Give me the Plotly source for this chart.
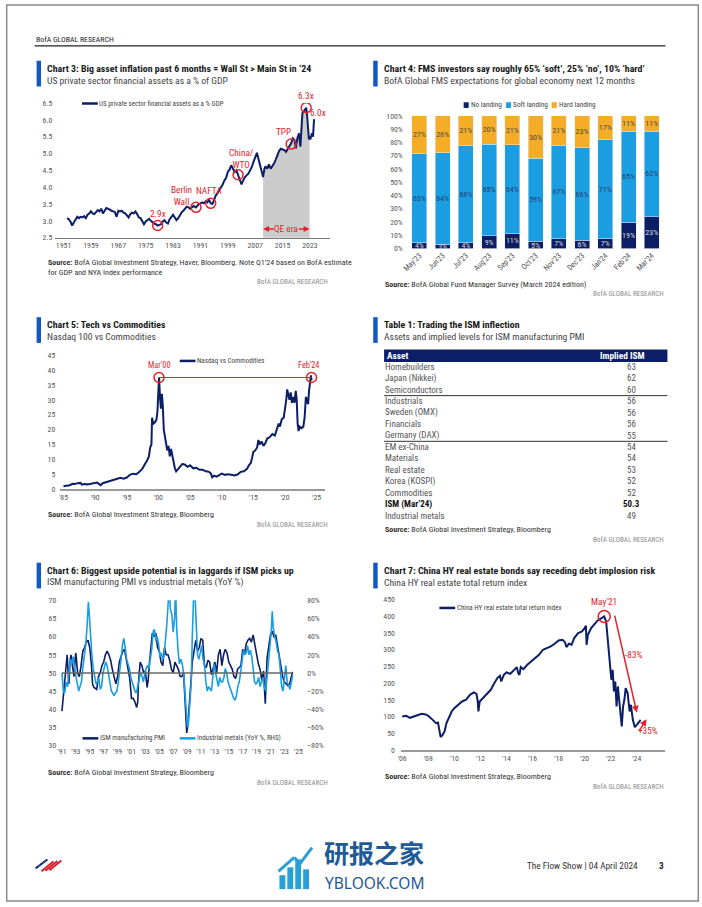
import plotly.graph_objects as go

W, H = 702, 907
def px(x): return x / W
def py(y): return 1 - y / H

NAVY = "#0c1f66"
LBLUE = "#1b9de2"
GOLD = "#f5ad27"
RED = "#e2232a"
TICK = "#555555"
BLUEBAR = "#1257c6"
FONT = "Noto Sans Condensed, Roboto Condensed, DejaVu Sans Condensed, sans-serif"

# ---------------- Chart 3 data ----------------
c3_years = [1952.0,1952.5,1953.0,1953.5,1954.0,1954.5,1955.0,1955.5,1956.0,1956.5,1957.0,1957.5,1958.0,1958.5,
            1959.0,1959.5,1960.0,1960.5,1961.0,1961.5,1962.0,1962.5,1963.0,1963.5,1964.0,1964.5,1965.0,1965.5,
            1966.0,1966.5,1967.0,1967.5,1968.0,1968.5,1969.0,1969.5,1970.0,1970.5,1971.0,1971.5,1972.0,1972.5,
            1973.0,1973.5,1974.0,1974.5,1975.0,1975.5,1976.0,1976.5,1977.0,1977.5,1978.0,1978.5,1979.0,1979.5,
            1980.0,1980.5,1981.0,1981.5,1982.0,1982.5,1983.0,1983.5,1984.0,1984.5,1985.0,1985.5,1986.0,1986.5,
            1987.0,1987.5,1988.0,1988.5,1989.0,1989.7,1990.0,1990.5,1991.0,1991.5,1992.0,1992.5,1993.0,1993.5,
            1994.0,1994.5,1995.0,1995.5,1996.0,1996.5,1997.0,1997.5,1998.0,1998.5,1999.0,1999.5,2000.0,2000.5,
            2001.0,2001.5,2002.0,2002.5,2003.0,2003.5,2004.0,2004.5,2005.0,2005.5,2006.0,2006.5,2007.0,2007.5,
            2008.0,2008.5,2009.0,2009.3,2009.7,2010.0,2010.5,2011.0,2011.5,2012.0,2012.5,2013.0,2013.5,2014.0,
            2014.5,2015.0,2015.5,2016.0,2016.5,2017.0,2017.5,2018.0,2018.5,2018.9,2019.3,2019.8,2020.2,2020.5,
            2020.8,2021.2,2021.6,2021.9,2022.2,2022.5,2022.7,2022.9,2023.2,2023.6,2023.9,2024.2]
c3_vals = [3.08,3.05,2.98,2.86,2.95,3.05,3.12,3.08,3.12,3.10,3.14,3.08,3.18,3.22,
           3.28,3.22,3.20,3.26,3.32,3.28,3.36,3.22,3.32,3.38,3.36,3.32,3.30,3.28,
           3.26,3.12,3.30,3.28,3.30,3.24,3.22,3.16,3.10,3.20,3.24,3.22,3.28,3.20,
           3.10,3.08,3.00,2.90,2.98,3.02,3.06,3.00,2.95,2.92,2.90,2.86,2.88,2.90,
           2.98,3.02,2.95,2.92,3.05,3.10,3.18,3.10,3.02,3.08,3.18,3.25,3.30,3.35,
           3.42,3.40,3.36,3.40,3.44,3.40,3.45,3.50,3.52,3.55,3.52,3.58,3.55,3.62,
           3.52,3.50,3.62,3.76,3.82,3.90,4.02,4.08,4.20,4.28,4.45,4.52,4.65,4.55,
           4.45,4.50,4.37,4.20,4.08,4.20,4.30,4.35,4.40,4.50,4.60,4.75,4.90,5.02,
           4.82,4.60,4.40,4.30,4.55,4.62,4.55,4.68,4.55,4.62,4.70,4.82,4.95,5.08,
           5.14,5.12,5.10,5.05,5.15,5.22,5.30,5.45,5.40,5.15,5.45,5.60,5.20,5.90,
           6.20,6.25,6.30,6.36,6.10,5.60,5.42,5.48,5.45,5.60,5.50,6.02]
c3_qe_start, c3_qe_end = 2009.3, 2022.9
c3_mark_x = [1978.5, 1989.7, 1994.0, 2002.0, 2017.5, 2021.9]
c3_mark_y = [2.86, 3.40, 3.52, 4.37, 5.28, 6.36]
c3_mark_text = ["2.9x", "Berlin<br>Wall", "NAFTA", "China/<br>WTO", "TPP", "6.3x"]
c3_ticks = [1951, 1959, 1967, 1975, 1983, 1991, 1999, 2007, 2015, 2023]

# ---------------- Chart 4 data ----------------
c4_months = ["May'23", "Jun'23", "Jul'23", "Aug'23", "Sep'23", "Oct'23",
             "Nov'23", "Dec'23", "Jan'24", "Feb'24", "Mar'24"]
c4_no = [4, 3, 4, 9, 11, 5, 7, 6, 7, 19, 23]
c4_soft = [63, 64, 68, 65, 64, 59, 67, 66, 71, 65, 62]
c4_hard = [27, 26, 21, 20, 21, 30, 21, 23, 17, 11, 11]

# ---------------- Chart 5 data ----------------
c5_years = [1985.0,1985.5,1986.0,1986.4,1986.8,1987.2,1987.7,1987.9,1988.3,1988.8,1989.3,1989.8,1990.3,1990.7,
            1990.9,1991.2,1991.6,1992.0,1992.5,1993.0,1993.5,1994.0,1994.5,1995.0,1995.5,1996.0,1996.5,1997.0,
            1997.5,1997.9,1998.2,1998.5,1998.7,1998.9,1999.0,1999.2,1999.5,1999.7,1999.85,2000.0,2000.1,2000.25,
            2000.4,2000.55,2000.7,2000.85,2001.0,2001.2,2001.4,2001.6,2001.8,2002.0,2002.2,2002.4,2002.6,2002.8,
            2003.0,2003.4,2003.8,2004.2,2004.6,2005.0,2005.5,2006.0,2006.5,2007.0,2007.5,2008.0,2008.3,2008.5,
            2008.8,2009.2,2009.6,2010.0,2010.5,2011.0,2011.5,2012.0,2012.5,2013.0,2013.5,2014.0,2014.3,2014.6,
            2014.8,2015.0,2015.3,2015.6,2015.8,2016.0,2016.3,2016.6,2016.9,2017.2,2017.6,2018.0,2018.4,2018.7,
            2019.0,2019.2,2019.5,2019.8,2020.0,2020.2,2020.35,2020.5,2020.7,2020.9,2021.1,2021.3,2021.5,2021.7,
            2021.85,2022.0,2022.15,2022.3,2022.6,2022.9,2023.1,2023.3,2023.5,2023.65,2023.8,2023.95,2024.1,2024.2]
c5_vals = [1.0,1.1,1.3,1.8,1.7,2.0,2.1,1.5,1.7,1.6,1.8,2.0,2.2,1.6,
           1.3,2.0,2.3,2.6,2.9,3.2,3.5,3.8,3.5,3.9,4.8,5.2,5.0,5.8,
           7.0,8.5,9.5,11.0,14.0,15.0,24.0,22.0,22.5,23.5,26.0,33.0,37.5,31.0,
           27.0,32.0,28.0,20.0,18.0,15.0,13.0,14.5,11.0,13.5,11.0,9.0,7.0,6.0,
           6.5,7.5,8.5,8.2,7.5,8.0,7.0,7.2,6.5,6.5,6.0,5.8,5.2,4.0,
           4.5,4.2,4.8,5.2,4.8,5.0,4.8,4.6,4.9,5.8,6.0,6.8,8.0,8.8,
           10.5,12.5,13.0,14.0,16.5,15.0,16.0,14.5,15.5,17.0,17.5,18.5,18.0,20.0,
           22.0,21.0,23.5,24.0,26.5,30.0,33.5,32.0,30.0,32.5,29.0,31.0,29.0,33.0,
           30.0,22.0,19.5,21.0,20.5,21.0,24.0,31.0,29.0,28.5,33.0,37.0,38.2,36.5]
c5_mark_x = [2000.1, 2024.2]
c5_mark_y = [37.5, 37.5]
c5_mark_text = ["Mar'00", "Feb'24"]
c5_ticks = [1985, 1990, 1995, 2000, 2005, 2010, 2015, 2020, 2025]
c5_ticktext = ["'85", "'90", "'95", "'00", "'05", "'10", "'15", "'20", "'25"]

# ---------------- Table 1 data ----------------
table_assets = ["Homebuilders", "Japan (Nikkei)", "Semiconductors", "Industrials", "Sweden (OMX)",
                "Financials", "Germany (DAX)", "EM ex-China", "Materials", "Real estate",
                "Korea (KOSPI)", "Commodities", "ISM (Mar\u201924)", "Industrial metals"]
table_isms = ["63", "62", "60", "56", "56", "56", "55", "54", "54", "53", "52", "52", "50.3", "49"]
table_bold_row = 12
table_breaks_after = [2, 6]

# ---------------- Chart 6 data ----------------
c6_ism_x = [1991.0,1991.25,1991.5,1991.75,1991.9,1992.0,1992.15,1992.3,1992.5,1992.75,1992.9,1993.0,1993.25,
            1993.5,1993.75,1993.9,1994.0,1994.25,1994.5,1994.75,1994.9,1995.0,1995.25,1995.4,1995.6,1995.9,
            1996.0,1996.25,1996.5,1996.75,1997.0,1997.25,1997.5,1997.75,1998.0,1998.25,1998.5,1998.75,1999.0,
            1999.25,1999.5,1999.75,2000.0,2000.25,2000.5,2000.75,2001.0,2001.25,2001.5,2001.75,2001.9,2002.0,
            2002.25,2002.5,2002.75,2003.0,2003.25,2003.4,2003.6,2003.9,2004.0,2004.25,2004.5,2004.75,2005.0,
            2005.25,2005.5,2005.75,2006.0,2006.25,2006.5,2006.75,2007.0,2007.25,2007.5,2007.75,2008.0,2008.25,
            2008.5,2008.75,2008.95,2009.1,2009.3,2009.5,2009.75,2010.0,2010.25,2010.5,2010.75,2011.0,2011.25,
            2011.5,2011.75,2012.0,2012.25,2012.5,2012.75,2013.0,2013.25,2013.5,2013.75,2014.0,2014.25,2014.5,
            2014.75,2015.0,2015.25,2015.5,2015.75,2016.0,2016.25,2016.5,2016.75,2017.0,2017.25,2017.5,2017.75,
            2018.0,2018.25,2018.5,2018.75,2019.0,2019.25,2019.5,2019.75,2020.0,2020.25,2020.5,2020.75,2021.0,
            2021.25,2021.5,2021.75,2022.0,2022.25,2022.5,2022.75,2023.0,2023.25,2023.5,2023.75,2024.0,2024.17]
c6_ism = [39.5,45.0,50.0,55.0,50.0,47.0,53.0,55.0,52.0,49.0,54.0,55.5,50.0,
          49.0,52.0,55.0,56.0,57.0,58.5,59.0,57.0,57.0,52.0,47.0,46.0,45.5,
          45.5,49.0,50.0,52.0,53.0,55.0,56.0,55.0,53.5,51.0,49.0,47.0,49.0,
          53.0,54.5,56.0,56.5,54.0,51.5,48.5,43.0,43.0,42.0,40.5,42.0,47.0,
          53.0,52.0,50.0,50.5,46.0,48.0,53.0,60.0,61.0,60.0,61.0,57.0,56.0,
          53.0,52.0,57.0,55.0,55.0,53.5,51.0,50.0,53.0,52.0,51.0,49.0,49.0,
          50.0,39.0,33.5,35.5,40.0,46.0,53.0,56.0,59.0,56.0,57.0,59.5,59.0,
          52.0,51.5,53.5,53.0,49.5,51.5,53.0,50.0,55.0,56.5,52.0,55.0,56.5,
          55.5,53.0,52.0,51.0,49.0,48.5,51.0,51.5,52.0,56.5,55.0,58.0,59.0,
          59.5,58.5,60.5,58.0,54.5,52.5,51.0,48.0,50.5,41.5,54.0,57.0,60.5,
          61.5,60.0,60.5,57.5,55.5,52.5,49.0,47.5,47.0,46.5,47.0,49.0,50.3]
c6_met_x = [1991.0,1991.2,1991.4,1991.6,1991.8,1992.0,1992.2,1992.4,1992.6,1992.8,1993.0,1993.2,1993.4,1993.6,
            1993.8,1994.0,1994.2,1994.4,1994.6,1994.8,1994.95,1995.1,1995.3,1995.5,1995.7,1995.9,1996.1,1996.3,
            1996.5,1996.7,1996.9,1997.1,1997.3,1997.5,1997.7,1997.9,1998.1,1998.3,1998.5,1998.7,1998.9,1999.1,
            1999.3,1999.5,1999.7,1999.9,2000.1,2000.3,2000.5,2000.7,2000.9,2001.1,2001.3,2001.5,2001.7,2001.9,
            2002.1,2002.3,2002.5,2002.7,2002.9,2003.1,2003.3,2003.5,2003.7,2003.9,2004.1,2004.3,2004.5,2004.7,
            2004.9,2005.1,2005.3,2005.5,2005.7,2005.9,2006.1,2006.3,2006.45,2006.6,2006.8,2007.0,2007.2,2007.35,
            2007.5,2007.7,2007.9,2008.1,2008.3,2008.5,2008.7,2008.9,2009.05,2009.2,2009.4,2009.6,2009.75,2009.85,
            2010.0,2010.15,2010.3,2010.5,2010.7,2010.9,2011.1,2011.3,2011.5,2011.7,2011.9,2012.1,2012.3,2012.5,
            2012.7,2012.9,2013.1,2013.3,2013.5,2013.7,2013.9,2014.1,2014.3,2014.5,2014.7,2014.9,2015.1,2015.3,
            2015.5,2015.7,2015.9,2016.1,2016.3,2016.5,2016.7,2016.9,2017.1,2017.3,2017.5,2017.7,2017.9,2018.1,
            2018.3,2018.5,2018.7,2018.9,2019.1,2019.3,2019.5,2019.7,2019.9,2020.1,2020.3,2020.5,2020.7,2020.9,
            2021.1,2021.25,2021.4,2021.6,2021.8,2022.0,2022.2,2022.4,2022.6,2022.8,2023.0,2023.2,2023.4,2023.6,
            2023.8,2024.0,2024.2]
c6_met = [0,-20,-22,-10,-15,0,15,10,18,5,-5,-15,-20,-15,
          -10,5,15,30,50,78,62,40,20,5,-5,-12,-10,-5,
          -18,-15,0,5,12,8,0,-10,-20,-22,-25,-22,-20,-10,
          0,15,30,38,28,15,10,5,-5,-10,-15,-20,-22,-15,
          -5,0,-3,-10,-2,5,8,5,15,25,45,48,35,40,
          32,18,22,15,20,35,55,80,95,70,65,45,60,95,
          50,25,10,15,10,0,-25,-50,-60,-55,-35,-10,40,95,
          100,85,45,20,15,25,30,15,10,-10,-20,-15,-18,-20,
          -5,10,0,-10,-15,-5,-10,-10,-5,5,0,-10,-15,-20,
          -25,-28,-30,-25,-15,-10,0,15,25,20,22,30,20,25,
          18,5,-10,-12,-10,-5,-15,-10,-5,-15,-20,-5,10,25,
          45,68,50,40,35,25,20,5,-15,-20,-5,8,-10,-15,
          -18,-10,-2]
c6_ticks = list(range(1991, 2026, 2))
c6_ticktext = ["'91", "'93", "'95", "'97", "'99", "'01", "'03", "'05", "'07", "'09", "'11", "'13",
               "'15", "'17", "'19", "'21", "'23", "'25"]

# ---------------- Chart 7 data ----------------
c7_years = [2006.0,2006.3,2006.6,2006.9,2007.2,2007.5,2007.8,2008.0,2008.2,2008.4,2008.6,2008.75,2008.85,2008.95,
            2009.1,2009.25,2009.4,2009.6,2009.8,2010.0,2010.3,2010.6,2010.9,2011.2,2011.5,2011.7,2011.8,2011.85,
            2011.95,2012.2,2012.5,2012.8,2013.0,2013.3,2013.5,2013.6,2013.8,2014.0,2014.3,2014.6,2014.8,2014.9,
            2015.0,2015.1,2015.3,2015.6,2015.9,2016.2,2016.5,2016.8,2017.1,2017.4,2017.7,2018.0,2018.3,2018.5,
            2018.6,2018.8,2019.0,2019.2,2019.5,2019.8,2020.0,2020.1,2020.15,2020.25,2020.5,2020.8,2021.0,2021.3,
            2021.5,2021.65,2021.75,2021.85,2021.95,2022.05,2022.15,2022.25,2022.35,2022.45,2022.55,2022.65,2022.75,
            2022.85,2022.95,2023.05,2023.15,2023.3,2023.45,2023.55,2023.7,2023.85,2024.0,2024.15,2024.3]
c7_vals = [100,102,96,100,105,108,106,102,95,86,80,82,55,38,
           45,55,80,100,115,125,135,145,150,165,172,168,145,115,
           145,155,170,180,195,215,222,205,225,232,228,240,248,230,
           225,248,242,255,265,275,285,300,305,310,318,328,330,322,
           308,318,315,335,350,355,365,372,315,345,365,380,388,395,
           400,385,345,300,270,210,240,175,205,130,190,150,100,
           70,130,150,185,170,115,135,90,68,75,82,90]
c7_peak = (2021.5, 400, "May'21")
c7_ticks = list(range(2006, 2025, 2))
c7_ticktext = ["'06", "'08", "'10", "'12", "'14", "'16", "'18", "'20", "'22", "'24"]

fig = go.Figure()

# ---- Chart 3 traces
qe_x = [x for x in c3_years if c3_qe_start <= x <= c3_qe_end]
qe_y = [v for x, v in zip(c3_years, c3_vals) if c3_qe_start <= x <= c3_qe_end]
fig.add_trace(go.Scatter(x=qe_x, y=qe_y, mode="lines", line=dict(width=0, color="#c9c9c9"),
                         fill="tozeroy", fillcolor="#cccccc", xaxis="x", yaxis="y", hoverinfo="skip"))
fig.add_trace(go.Scatter(x=c3_years, y=c3_vals, mode="lines", line=dict(color=NAVY, width=2),
                         name="US private sector financial assets as a % GDP", xaxis="x", yaxis="y"))
fig.add_trace(go.Scatter(x=c3_mark_x, y=c3_mark_y, mode="markers",
                         marker=dict(symbol="circle-open", size=10, color=RED, line=dict(width=1.5)),
                         xaxis="x", yaxis="y", hoverinfo="skip"))

# ---- Chart 4 traces
for vals, name, col, tcol in [(c4_no, "No landing", NAVY, "#d8d8d8"),
                              (c4_soft, "Soft landing", LBLUE, "#27406e"),
                              (c4_hard, "Hard landing", GOLD, "#4a4a4a")]:
    fig.add_trace(go.Bar(x=c4_months, y=vals, name=name, marker_color=col,
                         text=[f"{v}%" for v in vals], textposition="inside", insidetextanchor="middle",
                         textangle=0, constraintext="none",
                         textfont=dict(color=tcol, size=8, family=FONT), xaxis="x2", yaxis="y2"))

# ---- Chart 5 traces
fig.add_trace(go.Scatter(x=c5_years, y=c5_vals, mode="lines", line=dict(color=NAVY, width=2),
                         name="Nasdaq vs Commodities", xaxis="x3", yaxis="y3"))
fig.add_trace(go.Scatter(x=c5_mark_x, y=c5_mark_y, mode="lines+markers", line=dict(color=RED, width=1.2),
                         marker=dict(symbol="circle-open", size=10, color=RED, line=dict(width=1.5)),
                         xaxis="x3", yaxis="y3", hoverinfo="skip"))

# ---- Chart 6 traces
fig.add_trace(go.Scatter(x=c6_ism_x, y=c6_ism, mode="lines", line=dict(color=NAVY, width=1.6),
                         name="ISM manufacturing PMI", xaxis="x4", yaxis="y4"))
fig.add_trace(go.Scatter(x=c6_met_x, y=c6_met, mode="lines", line=dict(color=LBLUE, width=1.6),
                         name="Industrial metals (YoY %, RHS)", xaxis="x4", yaxis="y5"))

# ---- Chart 7 traces
fig.add_trace(go.Scatter(x=c7_years, y=c7_vals, mode="lines", line=dict(color=NAVY, width=2),
                         name="China HY real estate total return index", xaxis="x5", yaxis="y6"))
fig.add_trace(go.Scatter(x=[c7_peak[0]], y=[c7_peak[1]], mode="markers",
                         marker=dict(symbol="circle-open", size=12, color=RED, line=dict(width=1.5)),
                         xaxis="x5", yaxis="y6", hoverinfo="skip"))

tickfont = dict(size=7.8, color=TICK, family=FONT)
common_x = dict(showgrid=False, zeroline=False, ticks="", tickfont=tickfont, fixedrange=True)
common_y = dict(showgrid=False, zeroline=False, ticks="", tickfont=tickfont, fixedrange=True, showline=False)

layout = dict(
    width=W, height=H, margin=dict(l=0, r=0, t=0, b=0),
    paper_bgcolor="white", plot_bgcolor="white", showlegend=False,
    font=dict(family=FONT, color="#333"),
    barmode="stack", barnorm="percent", bargap=0.36,
    uniformtext=dict(minsize=8, mode="show"),
    xaxis=dict(common_x, domain=[px(50), px(328)], range=[1948.6, 2028.8], tickvals=c3_ticks,
               showline=True, linecolor="#777", linewidth=1, anchor="y"),
    yaxis=dict(common_y, domain=[py(236), py(100)], range=[2.5, 6.5], dtick=0.5, tickformat=".1f",
               anchor="x", ticklabelstandoff=2),
    xaxis2=dict(common_x, domain=[px(407), px(666)], type="category", tickangle=-45, anchor="y2",
                showline=False),
    yaxis2=dict(common_y, domain=[py(247), py(113)], range=[0, 100], dtick=10, ticksuffix="%",
                anchor="x2", ticklabelstandoff=4),
    xaxis3=dict(common_x, domain=[px(55), px(323)], range=[1984.5, 2026.3], tickvals=c5_ticks,
                ticktext=c5_ticktext, showline=True, linecolor="#999", linewidth=1.5, anchor="y3"),
    yaxis3=dict(common_y, domain=[py(490), py(354.7)], range=[0, 45], dtick=5, anchor="x3",
                ticklabelstandoff=4),
    xaxis4=dict(common_x, domain=[px(55), px(298)], range=[1990.76, 2025.27], tickvals=c6_ticks,
                ticktext=c6_ticktext, showline=False, anchor="y4"),
    yaxis4=dict(common_y, domain=[py(749), py(602.3)], range=[30, 70], dtick=5, anchor="x4",
                ticklabelstandoff=3),
    yaxis5=dict(common_y, overlaying="y4", side="right", range=[-80, 80], dtick=20, ticksuffix="%",
                anchor="x4", ticklabelstandoff=6),
    xaxis5=dict(common_x, domain=[px(400), px(668)], range=[2005.9, 2026.2], tickvals=c7_ticks,
                ticktext=c7_ticktext, showline=True, linecolor="#999", linewidth=1.5, anchor="y6"),
    yaxis6=dict(common_y, domain=[py(753.3), py(601.7)], range=[0, 450], dtick=50, anchor="x5",
                ticklabelstandoff=5),
)
fig.update_layout(**layout)

ann = []
shapes = []

def txt(x, y, s, size=8, color="#333", anchor="left", family=FONT):
    ann.append(dict(xref="paper", yref="paper", x=px(x), y=py(y), text=s, showarrow=False,
                    xanchor=anchor, yanchor="middle", borderpad=0,
                    font=dict(size=size, color=color, family=family)))

def hline(x0, x1, y, color, width):
    shapes.append(dict(type="line", xref="paper", yref="paper", x0=px(x0), x1=px(x1), y0=py(y), y1=py(y),
                       line=dict(color=color, width=width)))

def rect(x0, y0, x1, y1, color):
    shapes.append(dict(type="rect", xref="paper", yref="paper", x0=px(x0), x1=px(x1), y0=py(y0), y1=py(y1),
                       fillcolor=color, line=dict(width=0)))

def seg(x0, y0, x1, y1, color, width):
    shapes.append(dict(type="line", xref="paper", yref="paper", x0=px(x0), x1=px(x1), y0=py(y0), y1=py(y1),
                       line=dict(color=color, width=width)))

# page border & header
shapes.append(dict(type="rect", xref="paper", yref="paper", x0=0.001, x1=0.999, y0=0.001, y1=0.999,
                   line=dict(color="#8a8a8a", width=1.5)))
txt(29, 35.5, "BofA GLOBAL RESEARCH", size=7.8, color="#222")
hline(29, 668, 42.3, "#222", 1.2)

TITLE_SIZE = 9.9
SUB_SIZE = 9.6

def header(xbar, ytop, title, subtitle):
    rect(xbar, ytop, xbar + 4.5, ytop + 26, BLUEBAR)
    txt(xbar + 10, ytop + 7.7, f"<b>{title}</b>", size=TITLE_SIZE, color="#1a1a1a")
    txt(xbar + 10, ytop + 19.6, subtitle, size=SUB_SIZE, color="#444")

header(31, 57.3, "Chart 3: Big asset inflation past 6 months = Wall St &gt; Main St in \u201824",
       "US private sector financial assets as a % of GDP")
header(372, 57.3, "Chart 4: FMS investors say roughly 65% \u2018soft\u2019, 25% \u2018no\u2019, 10% \u2018hard\u2019",
       "BofA Global FMS expectations for global economy next 12 months")
header(31, 316.3, "Chart 5: Tech vs Commodities", "Nasdaq 100 vs Commodities")
header(372, 316.3, "Table 1: Trading the ISM inflection", "Assets and implied levels for ISM manufacturing PMI")
header(31, 564.3, "Chart 6: Biggest upside potential is in laggards if ISM picks up",
       "ISM manufacturing PMI vs industrial metals (YoY %)")
header(372, 564.3, "Chart 7: China HY real estate bonds say receding debt implosion risk",
       "China HY real estate total return index")

SRC = 8.0
GR = 7.1
txt(41.5, 260.7, "<b>Source:</b> BofA Global Investment Strategy, Haver, Bloomberg. Note Q1\u201924 based on BofA estimate", size=SRC)
txt(41.5, 270.7, "for GDP and NYA Index performance", size=SRC)
txt(327, 280.7, "BofA GLOBAL RESEARCH", size=GR, color="#8c8c8c", anchor="right")
txt(382.5, 283.3, "<b>Source:</b> BofA Global Fund Manager Survey (March 2024 edition)", size=SRC)
txt(668, 292.7, "BofA GLOBAL RESEARCH", size=GR, color="#8c8c8c", anchor="right")
txt(41.5, 516, "<b>Source:</b> BofA Global Investment Strategy, Bloomberg", size=SRC)
txt(327, 526, "BofA GLOBAL RESEARCH", size=GR, color="#8c8c8c", anchor="right")
txt(382.5, 530.7, "<b>Source:</b> BofA Global Investment Strategy, Bloomberg", size=SRC)
txt(668, 540.7, "BofA GLOBAL RESEARCH", size=GR, color="#8c8c8c", anchor="right")
txt(41.5, 776, "<b>Source:</b> BofA Global Investment Strategy, Bloomberg", size=SRC)
txt(327, 786, "BofA GLOBAL RESEARCH", size=GR, color="#8c8c8c", anchor="right")
txt(382.5, 780.7, "<b>Source:</b> BofA Global Investment Strategy, Bloomberg", size=SRC)
txt(668, 790.7, "BofA GLOBAL RESEARCH", size=GR, color="#8c8c8c", anchor="right")

# manual legends
LEG = 7.0
def line_legend(x0, y, color, label):
    hline(x0, x0 + 16, y, color, 2.5)
    txt(x0 + 16.5, y, label, size=LEG, color="#444")

line_legend(77, 100.5, NAVY, "US private sector financial assets as a % GDP")
line_legend(176, 360.5, NAVY, "Nasdaq vs Commodities")
line_legend(77.5, 741.7, NAVY, "ISM manufacturing PMI")
line_legend(176, 741.7, LBLUE, "Industrial metals (YoY %, RHS)")
line_legend(439, 610, NAVY, "China HY real estate total return index")
txt(530, 102, f'<span style="color:{NAVY}">\u25A0</span> No landing&nbsp;&nbsp;'
              f'<span style="color:{LBLUE}">\u25A0</span> Soft landing&nbsp;&nbsp;'
              f'<span style="color:{GOLD}">\u25A0</span> Hard landing', size=7.3, color="#444", anchor="center")

# chart 3 annotations
RA = 9.3
shifts3 = [(0, 5), (-14, 12), (-2, 5), (3, 16), (-8, 5), (0, 5)]
for (x, y, t), (dx, dy) in zip(zip(c3_mark_x, c3_mark_y, c3_mark_text), shifts3):
    ann.append(dict(xref="x", yref="y", x=x, y=y, text=t, showarrow=False, xshift=dx, yshift=dy,
                    yanchor="bottom" if "<br>" not in t else "middle",
                    font=dict(size=RA, color=RED, family=FONT)))
ann.append(dict(xref="x", yref="y", x=c3_years[-1], y=c3_vals[-1], text="6.0x", showarrow=False,
                xshift=4, yshift=7, font=dict(size=RA, color=RED, family=FONT)))
qe_mid = (c3_qe_start + c3_qe_end) / 2
ann.append(dict(xref="x", yref="y", x=qe_mid, y=2.76, text="QE era", showarrow=False,
                font=dict(size=RA, color=RED, family=FONT)))
ann.append(dict(xref="x", yref="y", x=c3_qe_start, y=2.76, ax=qe_mid - 3.2, ay=2.76, axref="x", ayref="y",
                text="", showarrow=True, arrowhead=2, arrowsize=0.8, arrowwidth=1.5, arrowcolor=RED))
ann.append(dict(xref="x", yref="y", x=c3_qe_end, y=2.76, ax=qe_mid + 3.2, ay=2.76, axref="x", ayref="y",
                text="", showarrow=True, arrowhead=2, arrowsize=0.8, arrowwidth=1.5, arrowcolor=RED))

# chart 5 annotations
for x, y, t in zip(c5_mark_x, c5_mark_y, c5_mark_text):
    ann.append(dict(xref="x3", yref="y3", x=x, y=y, text=t, showarrow=False, yshift=6, yanchor="bottom",
                    xshift=-3 if t.startswith("Feb") else 0, font=dict(size=8.3, color=RED, family=FONT)))

# chart 6 zero line
shapes.append(dict(type="line", xref="x4", yref="y4", x0=c6_ism_x[0], x1=c6_ism_x[-1], y0=50, y1=50,
                   line=dict(color="#666", width=1.5)))

# chart 7 annotations
ann.append(dict(xref="x5", yref="y6", x=c7_peak[0], y=c7_peak[1], text=c7_peak[2], showarrow=False,
                yshift=7, yanchor="bottom", font=dict(size=RA, color=RED, family=FONT)))
ann.append(dict(xref="x5", yref="y6", x=2024.0, y=112, ax=2022.28, ay=407, axref="x5", ayref="y6",
                text="", showarrow=True, arrowhead=2, arrowsize=0.9, arrowwidth=1.5, arrowcolor=RED))
ann.append(dict(xref="x5", yref="y6", x=2023.75, y=287, text="-83%", showarrow=False,
                font=dict(size=RA, color=RED, family=FONT)))
ann.append(dict(xref="x5", yref="y6", x=2024.75, y=92, ax=2024.13, ay=54, axref="x5", ayref="y6",
                text="", showarrow=True, arrowhead=2, arrowsize=0.9, arrowwidth=1.5, arrowcolor=RED))
ann.append(dict(xref="x5", yref="y6", x=2024.9, y=57, text="+35%", showarrow=False,
                font=dict(size=RA, color=RED, family=FONT)))

# Table 1
rect(383, 349, 670, 361.5, NAVY)
txt(385, 355.2, "<b>Asset</b>", size=9.3, color="white")
txt(624, 355.2, "<b>Implied ISM</b>", size=9.3, color="white", anchor="center")
row0, step = 366.7, 11.54
TB = 9.0
for i, (a, v) in enumerate(zip(table_assets, table_isms)):
    y = row0 + i * step
    if i == table_bold_row:
        txt(383, y, f"<b>{a}</b>", size=TB, color="#111")
        txt(634, y, f"<b>{v}</b>", size=TB, color="#111", anchor="center")
    else:
        txt(383, y, a, size=TB, color="#555")
        txt(634, y, v, size=TB, color="#555", anchor="center")
for b in table_breaks_after:
    hline(383, 670, row0 + (b + 0.5) * step, "#333", 1)

# footer
txt(641, 870, "The Flow Show | 04 April 2024", size=9.3, color="#333", anchor="right")
txt(664, 870, "<b>3</b>", size=9.3, color="#222", anchor="center")
for k in range(3):
    seg(36 + k * 4, 876 - k * 0.5, 48 + k * 4, 866 - k * 0.5, "#d4212b", 2)
    seg(30 + k * 4, 873 - k * 3, 34 + k * 4, 870 - k * 3, "#1a2f7a", 2)
WM = "#1f5a96"
for i, h in enumerate([14, 22, 30, 20]):
    rect(277 + i * 8, 894 - h, 283 + i * 8, 894, "#2a9fd6")
seg(276, 876, 292, 862, "#2a9fd6", 3)
seg(292, 862, 298, 868, "#2a9fd6", 3)
seg(298, 868, 310, 852, "#2a9fd6", 3)
txt(373, 857, "<b>研报之家</b>", size=25, color=WM, anchor="center", family="Noto Sans CJK SC")
txt(374, 887.5, "YBLOOK.COM", size=15.5, color=WM, anchor="center", family="Noto Sans, Roboto, sans-serif")

fig.update_layout(annotations=ann, shapes=shapes)
fig.write_html("out.html", config={"displayModeBar": False},
               post_script="document.body.style.margin='0px';document.body.style.overflow='hidden';")
